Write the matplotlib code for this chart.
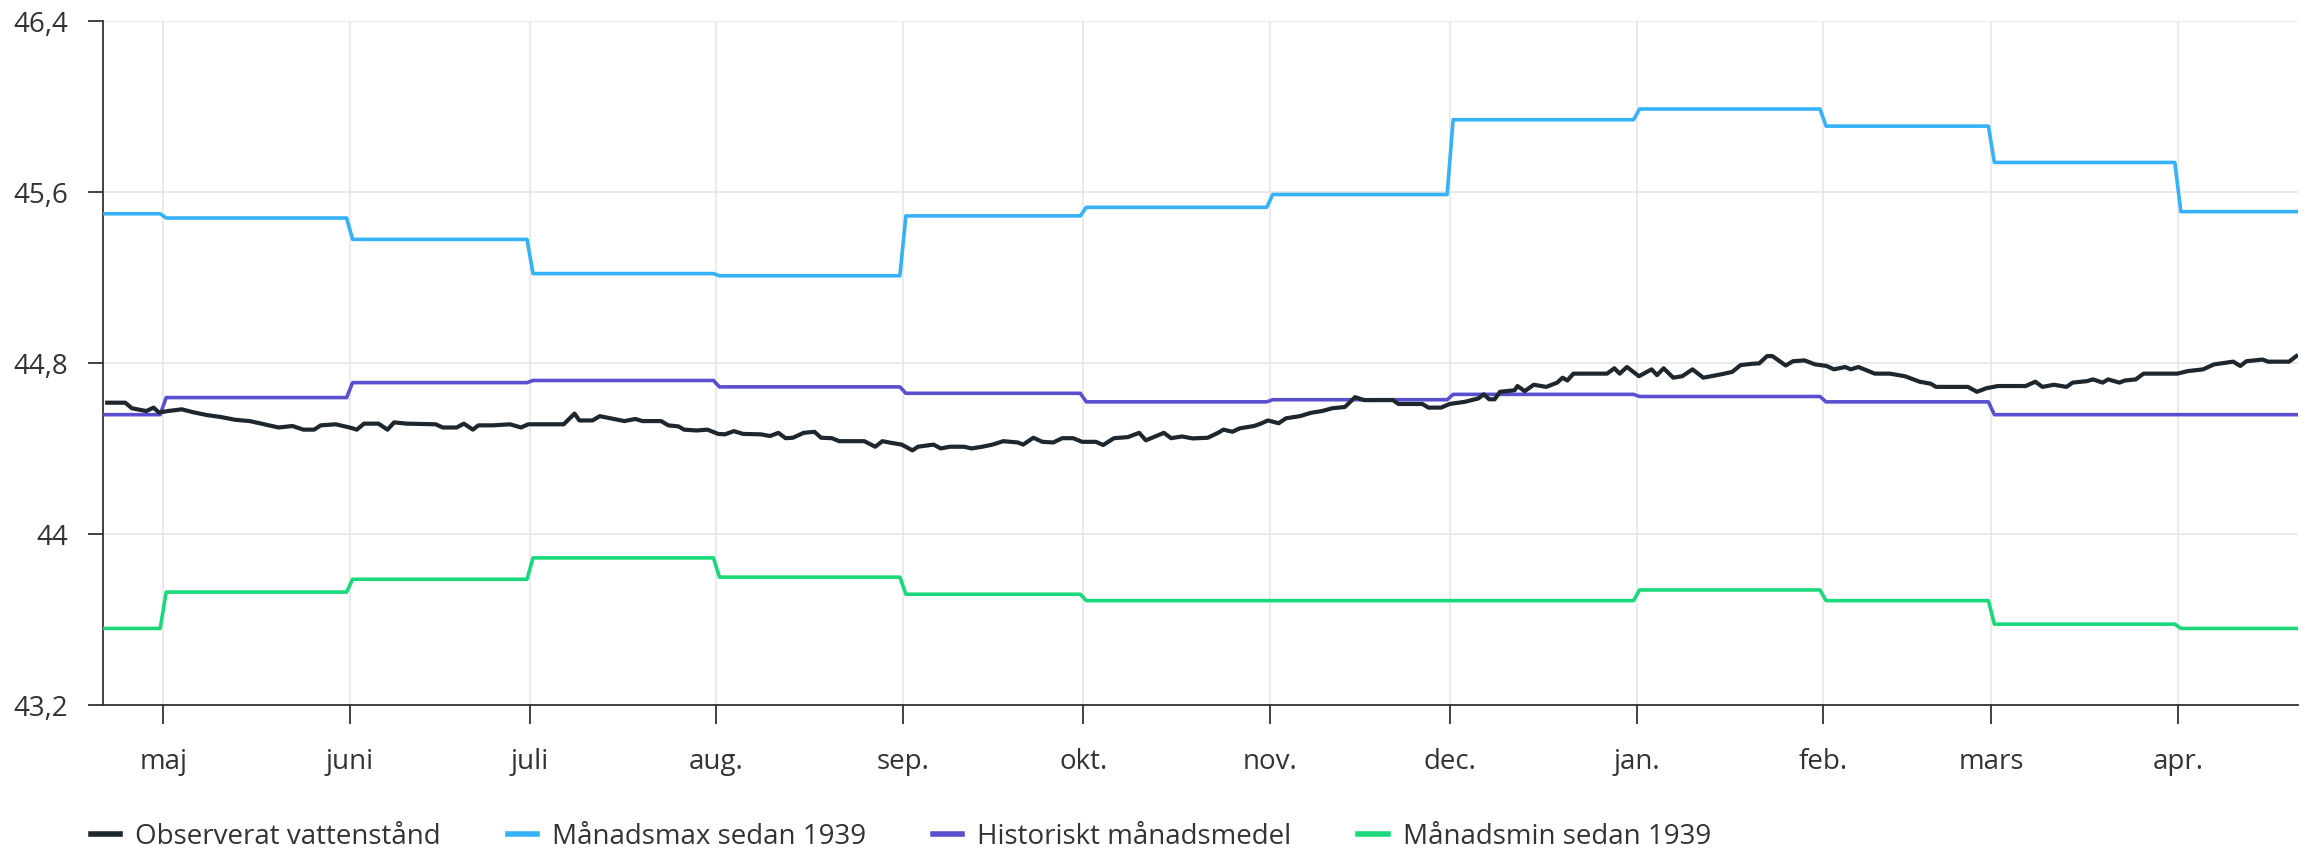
import pandas as pd
import matplotlib.pyplot as plt
import matplotlib.dates as mdates
from matplotlib.ticker import FuncFormatter, FixedLocator

plt.rcParams['font.family'] = ['Open Sans', 'DejaVu Sans']

start = pd.Timestamp('2024-04-21')
end = pd.Timestamp('2025-04-21')

# month boundaries (first period is the partial April)
month_starts = ['2024-04-21', '2024-05-01', '2024-06-01', '2024-07-01', '2024-08-01',
                '2024-09-01', '2024-10-01', '2024-11-01', '2024-12-01', '2025-01-01',
                '2025-02-01', '2025-03-01', '2025-04-01']
month_max = [45.50, 45.48, 45.38, 45.22, 45.21, 45.49, 45.53, 45.59, 45.94, 45.99, 45.91, 45.74, 45.51]
month_mean = [44.56, 44.64, 44.71, 44.72, 44.69, 44.66, 44.62, 44.63, 44.655, 44.645, 44.62, 44.56, 44.56]
month_min = [43.56, 43.73, 43.79, 43.89, 43.80, 43.72, 43.69, 43.69, 43.69, 43.74, 43.69, 43.58, 43.56]

# observed water level, day offset from 2024-04-21
obs_day = [0.7, 3.7, 4.8, 7.2, 8.4, 9.3, 10.8, 13.1, 14.9, 17.3, 19.6, 22.0, 24.4, 26.8, 29.2,
           31.5, 33.3, 35.1, 36.2, 38.7, 41.0, 42.2, 43.4, 45.8, 47.3, 48.4, 50.5, 55.3, 56.5,
           58.8, 60.0, 61.5, 62.4, 64.8, 67.7, 69.5, 70.7, 76.6, 78.4, 79.2, 81.4, 82.6, 84.9,
           86.7, 88.5, 89.7, 92.8, 94.0, 95.7, 96.6, 98.7, 100.5, 102.3, 103.4, 104.9, 106.4,
           109.4, 110.9, 112.3, 113.5, 114.7, 116.5, 118.3, 119.4, 121.2, 122.4, 126.6, 128.4,
           129.6, 130.7, 132.8, 134.6, 135.5, 138.1, 139.3, 140.8, 143.2, 144.4, 146.2, 147.9,
           149.7, 152.1, 153.0, 154.7, 156.2, 158.0, 159.5, 161.3, 162.8, 165.1, 166.3, 168.1,
           170.4, 172.3, 173.4, 176.4, 177.6, 179.4, 181.2, 183.7, 185.4, 186.3, 187.8, 189.0,
           191.4, 192.5, 193.7, 195.5, 196.7, 199.0, 200.9, 202.7, 204.4, 206.5, 208.2, 209.7,
           214.5, 215.4, 219.4, 220.4, 222.5, 223.9, 226.4, 228.7, 229.6, 230.5, 231.4, 232.3,
           234.7, 235.2, 236.4, 237.9, 240.0, 241.8, 242.7, 243.5, 244.5, 250.1, 251.3, 252.2,
           253.4, 255.4, 257.5, 258.4, 259.5, 261.1, 262.6, 264.3, 266.1, 269.1, 270.9, 272.3,
           274.2, 275.4, 276.7, 277.6, 279.8, 281.0, 282.9, 284.7, 286.6, 287.8, 289.7, 290.6,
           291.9, 294.6, 297.1, 299.6, 302.1, 303.9, 304.8, 310.1, 311.6, 313.2, 315.1, 319.7,
           321.3, 322.5, 324.4, 326.5, 327.5, 329.9, 330.9, 332.5, 333.4, 335.3, 336.2, 338.0,
           339.3, 344.9, 346.7, 349.2, 351.0, 354.2, 355.4, 356.4, 359.1, 360.0, 363.5, 364.7]
obs_level = [44.616, 44.616, 44.59, 44.577, 44.593, 44.57, 44.577, 44.585, 44.572, 44.558, 44.549,
             44.536, 44.53, 44.515, 44.50, 44.507, 44.49, 44.49, 44.51, 44.515, 44.50, 44.49,
             44.518, 44.518, 44.49, 44.524, 44.518, 44.515, 44.50, 44.50, 44.518, 44.49, 44.51,
             44.51, 44.515, 44.50, 44.515, 44.515, 44.565, 44.533, 44.533, 44.553, 44.54, 44.53,
             44.54, 44.53, 44.53, 44.51, 44.505, 44.49, 44.486, 44.49, 44.47, 44.468, 44.483,
             44.47, 44.468, 44.46, 44.475, 44.45, 44.452, 44.475, 44.48, 44.452, 44.45, 44.436,
             44.436, 44.41, 44.436, 44.43, 44.42, 44.393, 44.41, 44.42, 44.402, 44.41, 44.41,
             44.402, 44.41, 44.42, 44.436, 44.43, 44.42, 44.452, 44.433, 44.43, 44.45, 44.45,
             44.433, 44.433, 44.418, 44.45, 44.455, 44.475, 44.44, 44.475, 44.45, 44.458, 44.449,
             44.452, 44.475, 44.49, 44.48, 44.496, 44.507, 44.518, 44.533, 44.52, 44.543, 44.553,
             44.569, 44.577, 44.59, 44.596, 44.642, 44.628, 44.628, 44.61, 44.61, 44.593, 44.593,
             44.61, 44.62, 44.636, 44.655, 44.632, 44.632, 44.667, 44.674, 44.694, 44.67, 44.70,
             44.69, 44.71, 44.733, 44.72, 44.752, 44.752, 44.777, 44.752, 44.783, 44.74, 44.772,
             44.745, 44.777, 44.733, 44.74, 44.772, 44.733, 44.749, 44.76, 44.792, 44.798, 44.80,
             44.834, 44.834, 44.79, 44.81, 44.814, 44.795, 44.788, 44.772, 44.783, 44.772, 44.783,
             44.752, 44.752, 44.74, 44.714, 44.705, 44.69, 44.69, 44.667, 44.684, 44.694, 44.694,
             44.714, 44.69, 44.70, 44.69, 44.71, 44.717, 44.725, 44.71, 44.725, 44.71, 44.72,
             44.725, 44.752, 44.752, 44.764, 44.772, 44.795, 44.808, 44.788, 44.81, 44.818,
             44.808, 44.808, 44.834]

y_ticks = [43.2, 44.0, 44.8, 45.6, 46.4]
month_labels = ['maj', 'juni', 'juli', 'aug.', 'sep.', 'okt.', 'nov.', 'dec.',
                'jan.', 'feb.', 'mars', 'apr.']

labels = ['Observerat vattenstånd', 'Månadsmax sedan 1939',
          'Historiskt månadsmedel', 'Månadsmin sedan 1939']
colors = ['#1d272d', '#35b1f7', '#5a4fcf', '#1ad97a']


def monthly_line(values):
    # flat segment per month with a short ramp at each month change
    bounds = [pd.Timestamp(s) for s in month_starts] + [end]
    half = pd.Timedelta(hours=12)
    xs, ys = [], []
    for i, v in enumerate(values):
        a = bounds[i] if i == 0 else bounds[i] + half
        b = bounds[i + 1] if i == len(values) - 1 else bounds[i + 1] - half
        xs += [a, b]
        ys += [v, v]
    return xs, ys


fig = plt.figure(figsize=(23.05, 8.55), dpi=100)
ax = fig.add_axes([0.0447, 0.175, 0.9523, 0.8])

obs_dates = [start + pd.Timedelta(days=d) for d in obs_day]
ax.plot(obs_dates, obs_level, color=colors[0], lw=3.0, label=labels[0], zorder=5)
for vals, lab, col in zip([month_max, month_mean, month_min], labels[1:], colors[1:]):
    xs, ys = monthly_line(vals)
    ax.plot(xs, ys, color=col, lw=2.6, label=lab, zorder=4)

ax.set_xlim(start, end)
ax.set_ylim(43.2, 46.4)
ticks = pd.date_range('2024-05-01', '2025-04-01', freq='MS')
ax.xaxis.set_major_locator(FixedLocator(mdates.date2num(ticks)))
ax.set_xticklabels(month_labels)
ax.yaxis.set_major_locator(FixedLocator(y_ticks))
ax.yaxis.set_major_formatter(FuncFormatter(lambda v, p: f'{v:g}'.replace('.', ',')))

ax.grid(True, color='#e6e6e6', lw=1.2)
ax.set_axisbelow(True)
for s in ['top', 'right']:
    ax.spines[s].set_visible(False)
for s in ['left', 'bottom']:
    ax.spines[s].set_color('#333333')
    ax.spines[s].set_linewidth(1.3)
ax.tick_params(axis='x', length=14, width=1.3, color='#333333', pad=17,
               labelsize=20, labelcolor='#333333')
ax.tick_params(axis='y', length=11, width=1.3, color='#333333', pad=14,
               labelsize=20, labelcolor='#333333')

leg = fig.legend(loc='center left', bbox_to_anchor=(0.0395, 0.021), ncol=4, frameon=False,
                 fontsize=20, handlelength=1.05, handletextpad=0.55, columnspacing=2.4,
                 borderpad=0, borderaxespad=0, labelcolor='#333333')
for h in leg.legend_handles:
    h.set_linewidth(4)

fig.savefig('out.png', dpi=100)
